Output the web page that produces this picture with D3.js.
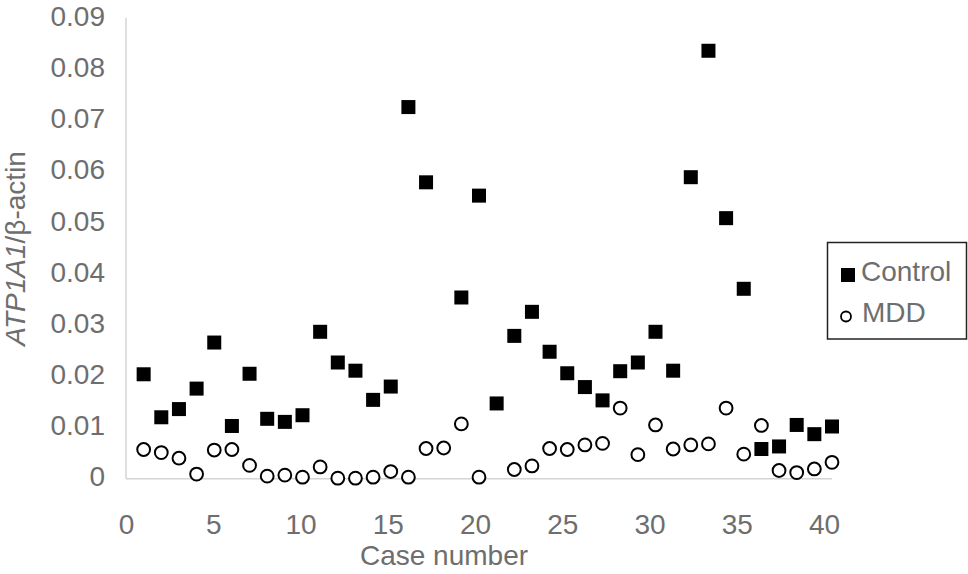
<!DOCTYPE html>
<html>
<head>
<meta charset="utf-8">
<script src="https://cdn.jsdelivr.net/npm/d3@7"></script>
<style>
  html, body { margin: 0; padding: 0; background: #fff; }
  svg { display: block; font-family: "Liberation Sans", Arial, Helvetica, sans-serif; }
</style>
</head>
<body>
<svg id="chart" width="968" height="574"></svg>
<script>
// ---- data ----
const caseNumbers = [1,2,3,4,5,6,7,8,9,10,11,12,13,14,15,16,17,18,19,20,21,22,23,24,25,26,27,28,29,30,31,32,33,34,35,36,37,38,39,40];
const controlValues = [0.0204,0.0120,0.0136,0.0176,0.0266,0.0103,0.0205,0.0117,0.0111,0.0124,
                       0.0287,0.0227,0.0211,0.0154,0.0180,0.0726,0.0579,null,0.0354,0.0553,
                       0.0147,0.0279,0.0326,0.0248,0.0206,0.0179,0.0153,0.0210,0.0227,0.0287,
                       0.0211,0.0589,0.0836,0.0509,0.0371,0.0058,0.0063,0.0105,0.0087,0.0102];
const mddValues = [0.0057,0.0051,0.0040,0.0009,0.0056,0.0057,0.0026,0.0005,0.0007,0.0003,
                   0.0023,0.0001,0.0001,0.0003,0.0014,0.0003,0.0059,0.0060,0.0107,0.0003,
                   null,0.0018,0.0025,0.0059,0.0057,0.0066,0.0069,0.0138,0.0047,0.0105,
                   0.0058,0.0066,0.0068,0.0138,0.0048,0.0104,0.0016,0.0012,0.0019,0.0032];
const xTicks = [0,5,10,15,20,25,30,35,40];
const yTicks = [0,0.01,0.02,0.03,0.04,0.05,0.06,0.07,0.08,0.09];
const seriesNames = ["Control", "MDD"];
const xTitle = "Case number";

// ---- layout ----
const svg = d3.select("#chart");
const pLeft = 126, pRight = 832, pTop = 18, pBottom = 478.7;
const textColor = "#6e6e6e";
const axisColor = "#d4d4d4";
const fontSize = 28;

const x = d3.scaleLinear().domain([0, 40]).range([pLeft, pRight]);
const xLabelScale = d3.scaleLinear().domain([0, 40]).range([pLeft, 824]);
const y = d3.scaleLinear().domain([0, 0.09]).range([pBottom, pTop]);

// axis lines
svg.append("line").attr("x1", pLeft).attr("x2", pLeft).attr("y1", pTop).attr("y2", pBottom)
  .attr("stroke", axisColor).attr("stroke-width", 1.5);
svg.append("line").attr("x1", pLeft).attr("x2", pRight).attr("y1", pBottom).attr("y2", pBottom)
  .attr("stroke", axisColor).attr("stroke-width", 1.5);

// y axis tick labels
const yAxis = d3.axisLeft(y).tickValues(yTicks).tickSize(0).tickPadding(0)
  .tickFormat(d => d === 0 ? "0" : d3.format(".2f")(d));
const gy = svg.append("g").attr("transform", `translate(105,0)`).call(yAxis);
gy.select(".domain").remove();
gy.selectAll("text").attr("fill", textColor).attr("font-size", fontSize)
  .attr("font-family", "Liberation Sans, Arial, sans-serif")
  .attr("dy", "0.26em");

// x axis tick labels
const xAxis = d3.axisBottom(xLabelScale).tickValues(xTicks).tickSize(0).tickPadding(0)
  .tickFormat(d3.format("d"));
const gx = svg.append("g").attr("transform", `translate(0,514)`).call(xAxis);
gx.select(".domain").remove();
gx.selectAll("text").attr("fill", textColor).attr("font-size", fontSize)
  .attr("font-family", "Liberation Sans, Arial, sans-serif")
  .attr("dy", "0.71em");

// axis titles
svg.append("text").attr("x", 444).attr("y", 565).attr("text-anchor", "middle")
  .attr("fill", textColor).attr("font-size", fontSize).text(xTitle);

const yt = svg.append("text")
  .attr("transform", `translate(25,${(pTop + pBottom) / 2}) rotate(-90)`)
  .attr("text-anchor", "middle").attr("fill", textColor).attr("font-size", fontSize);
yt.append("tspan").attr("font-style", "italic").text("ATP1A1");
yt.append("tspan").text("/β-actin");

// control squares
const sq = 14;
const controlData = caseNumbers.map((c, i) => ({c, v: controlValues[i]})).filter(d => d.v !== null);
svg.append("g").selectAll("rect").data(controlData).join("rect")
  .attr("x", d => x(d.c) - sq / 2).attr("y", d => y(d.v) - sq / 2)
  .attr("width", sq).attr("height", sq).attr("fill", "#000");

// MDD circles
const mddData = caseNumbers.map((c, i) => ({c, v: mddValues[i]})).filter(d => d.v !== null);
svg.append("g").selectAll("circle").data(mddData).join("circle")
  .attr("cx", d => x(d.c)).attr("cy", d => y(d.v)).attr("r", 6.4)
  .attr("fill", "#fff").attr("stroke", "#000").attr("stroke-width", 2);

// legend
const lg = svg.append("g");
lg.append("rect").attr("x", 827.5).attr("y", 242.5).attr("width", 139).attr("height", 96.5)
  .attr("fill", "#fff").attr("stroke", "#222").attr("stroke-width", 1.5);
lg.append("rect").attr("x", 841).attr("y", 268).attr("width", 14).attr("height", 14).attr("fill", "#000");
lg.append("text").attr("x", 861).attr("y", 281).attr("fill", textColor).attr("font-size", fontSize).text(seriesNames[0]);
lg.append("circle").attr("cx", 846).attr("cy", 316.5).attr("r", 5).attr("fill", "#fff")
  .attr("stroke", "#000").attr("stroke-width", 1.8);
lg.append("text").attr("x", 862).attr("y", 322).attr("fill", textColor).attr("font-size", fontSize).text(seriesNames[1]);
</script>
</body>
</html>
